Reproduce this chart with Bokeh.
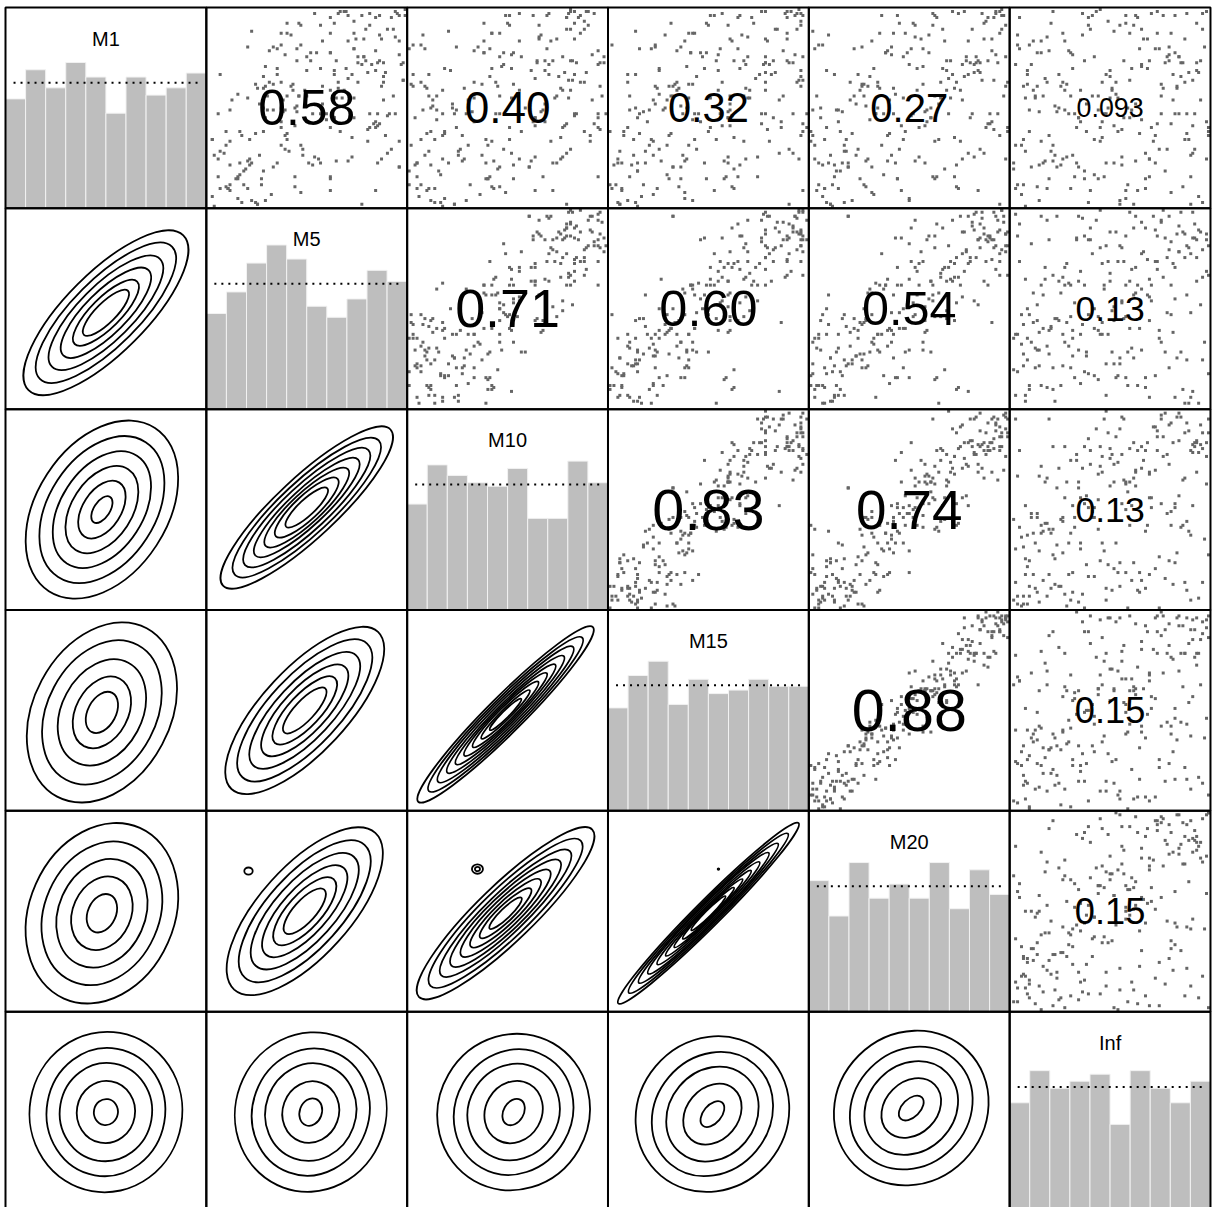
import numpy as np
from bokeh.plotting import figure
from bokeh.models import ColumnDataSource
from bokeh.embed import file_html
from bokeh.resources import INLINE
from bokeh.core.properties import value

VARS = ["M1", "M5", "M10", "M15", "M20", "Inf"]

# ---- observations (0-100 scale), estimated from the scatter panels ----
M20 = [3, 47, 82, 15, 66, 91, 28, 55, 8, 73,
       39, 97, 21, 60, 12, 85, 44, 70, 33, 5,
       77, 52, 18, 94, 63, 26, 88, 41, 10, 58,
       35, 99, 68, 2, 50, 80, 23, 93, 14, 45,
       72, 30, 86, 6, 61, 38, 96, 19, 54, 75,
       11, 42, 89, 67, 25, 1, 57, 83, 36, 98,
       48, 16, 74, 31, 92, 62, 7, 79, 43, 22,
       87, 53, 4, 69, 95, 27, 40, 13, 84, 59,
       20, 76, 34, 100, 9, 65, 49, 90, 29, 71,
       56, 17, 81, 37, 2, 94, 46, 64, 24, 78,
       99, 32, 51, 12, 86, 69, 5, 41, 93, 27,
       62, 8, 75, 44, 97, 19, 83, 36, 57, 1,
       70, 26, 90, 15, 53, 80, 39, 96, 10, 66,
       34, 88, 21, 58, 4, 73, 47, 100, 28, 61,
       14, 85, 42, 77, 0, 63, 31, 92, 50, 7,
       58, 6, 91, 23, 74, 45, 98, 17, 67, 32,
       84, 29, 50, 3, 63, 96, 11, 77, 40, 20,
       9, 71, 37, 88, 55, 14, 79, 26, 100, 48,
       65, 43, 18, 81, 2, 92, 34, 59, 72, 7,
       27, 95, 62, 50, 85, 38, 0, 68, 13, 89,
       76, 22, 46, 97, 31, 60, 87, 4, 53, 16,
       41, 64, 8, 35, 99, 19, 73, 52, 90, 25,
       93, 12, 80, 57, 44, 1, 66, 30, 83, 69,
       24, 86, 54, 10, 78, 47, 94, 39, 6, 61,
       51, 33, 99, 74, 17, 82, 28, 63, 42, 96]
M15 = [6, 40, 93, 14, 71, 77, 36, 51, 25, 63,
       34, 98, 9, 67, 10, 98, 36, 74, 15, 14,
       86, 49, 18, 79, 68, 32, 79, 55, 5, 60,
       24, 96, 62, 4, 69, 76, 23, 80, 24, 44,
       77, 42, 84, 2, 39, 41, 97, 14, 55, 89,
       14, 35, 100, 66, 30, 13, 65, 79, 53, 88,
       43, 17, 62, 38, 90, 75, 1, 83, 25, 31,
       96, 50, 4, 54, 100, 33, 31, 27, 79, 61,
       9, 81, 28, 98, 28, 61, 49, 77, 39, 70,
       61, 29, 79, 29, 20, 97, 53, 59, 25, 92,
       98, 25, 62, 11, 91, 55, 13, 37, 90, 17,
       57, 9, 63, 51, 95, 32, 75, 40, 39, 10,
       79, 23, 90, 0, 58, 86, 30, 90, 5, 68,
       23, 93, 15, 60, 23, 69, 47, 87, 38, 60,
       19, 97, 40, 69, 22, 66, 38, 87, 51, 21,
       61, 1, 98, 22, 79, 31, 94, 13, 84, 22,
       79, 30, 38, 10, 61, 91, 3, 81, 22, 29,
       18, 68, 37, 73, 60, 20, 70, 40, 95, 50,
       54, 48, 12, 83, 21, 88, 34, 46, 82, 6,
       32, 93, 60, 42, 63, 41, 7, 63, 14, 97,
       79, 15, 57, 96, 36, 46, 95, 0, 70, 6,
       36, 65, 4, 42, 97, 32, 65, 56, 72, 34,
       98, 9, 80, 42, 49, 7, 57, 44, 78, 71,
       13, 91, 48, 12, 97, 43, 94, 26, 16, 60,
       56, 45, 97, 66, 5, 85, 35, 58, 43, 90]
M10 = [9, 33, 85, 0, 81, 84, 12, 51, 21, 77,
       33, 87, 11, 67, 4, 73, 39, 64, 23, 3,
       93, 50, 10, 90, 72, 2, 66, 52, 23, 67,
       9, 77, 56, 17, 48, 84, 22, 97, 13, 48,
       91, 14, 90, 11, 59, 38, 92, 4, 56, 81,
       17, 28, 78, 52, 40, 20, 41, 79, 49, 98,
       42, 32, 42, 38, 84, 96, 4, 73, 33, 14,
       83, 51, 4, 65, 96, 1, 18, 24, 97, 68,
       6, 92, 22, 89, 7, 69, 48, 94, 28, 74,
       75, 1, 85, 16, 40, 94, 64, 41, 26, 84,
       99, 18, 84, 3, 99, 62, 11, 37, 86, 31,
       56, 24, 43, 51, 89, 61, 78, 30, 47, 7,
       100, 24, 82, 11, 62, 52, 17, 87, 23, 75,
       8, 80, 9, 73, 2, 77, 46, 96, 27, 64,
       33, 69, 46, 56, 42, 63, 49, 69, 52, 13,
       64, 6, 80, 8, 89, 38, 70, 13, 80, 36,
       78, 45, 18, 10, 55, 80, 6, 71, 30, 12,
       39, 69, 29, 84, 64, 14, 57, 37, 87, 57,
       39, 75, 6, 96, 0, 96, 33, 63, 71, 10,
       46, 65, 66, 29, 83, 38, 18, 45, 15, 89,
       82, 8, 79, 82, 46, 53, 71, 0, 66, 20,
       35, 80, 16, 42, 91, 61, 68, 46, 80, 17,
       81, 10, 72, 53, 53, 27, 44, 41, 96, 78,
       2, 82, 42, 25, 76, 51, 93, 43, 5, 64,
       70, 17, 97, 53, 25, 82, 46, 40, 44, 82]
M5 = [11, 20, 92, 18, 68, 86, 45, 62, 50, 73,
      31, 100, 22, 87, 5, 85, 15, 71, 5, 29,
      89, 46, 41, 70, 81, 42, 88, 39, 25, 38,
      28, 88, 71, 5, 83, 73, 26, 81, 6, 48,
      95, 60, 81, 11, 28, 62, 90, 22, 69, 66,
      3, 25, 85, 70, 27, 22, 74, 90, 78, 94,
      40, 45, 9, 58, 75, 62, 20, 80, 15, 40,
      99, 47, 35, 45, 95, 43, 40, 11, 99, 39,
      31, 97, 37, 67, 42, 58, 52, 84, 21, 74,
      79, 47, 76, 16, 9, 82, 62, 15, 39, 69,
      79, 35, 91, 21, 86, 64, 44, 48, 85, 27,
      54, 37, 10, 71, 80, 97, 54, 37, 29, 33,
      82, 20, 87, 9, 71, 8, 39, 74, 25, 46,
      29, 91, 24, 51, 37, 66, 50, 82, 20, 64,
      37, 85, 37, 56, 11, 87, 47, 43, 65, 2,
      44, 47, 87, 26, 76, 40, 97, 24, 91, 32,
      76, 58, 15, 30, 46, 78, 18, 78, 12, 38,
      57, 65, 60, 64, 73, 30, 79, 24, 89, 28,
      2, 86, 21, 74, 35, 85, 37, 85, 64, 10,
      50, 89, 57, 29, 52, 62, 16, 19, 28, 74,
      62, 45, 86, 100, 33, 55, 96, 11, 95, 16,
      33, 93, 17, 62, 82, 97, 44, 53, 62, 43,
      99, 6, 97, 33, 62, 17, 66, 28, 98, 49,
      35, 93, 57, 3, 89, 40, 97, 65, 2, 64,
      74, 63, 88, 53, 6, 94, 44, 14, 57, 67]
M1 = [8, 55, 47, 18, 55, 47, 51, 40, 69, 35,
      79, 97, 3, 87, 15, 8, 14, 65, 47, 45,
      54, 93, 28, 99, 33, 61, 85, 77, 1, 48,
      60, 24, 84, 24, 72, 67, 52, 39, 9, 29,
      99, 44, 68, 21, 50, 78, 36, 22, 59, 98,
      0, 60, 40, 70, 14, 89, 80, 68, 97, 56,
      88, 48, 10, 84, 85, 15, 9, 74, 57, 56,
      64, 92, 22, 74, 47, 62, 37, 49, 73, 49,
      63, 33, 50, 38, 87, 52, 78, 42, 24, 55,
      85, 31, 73, 16, 31, 98, 8, 15, 29, 99,
      76, 70, 46, 21, 73, 69, 50, 26, 96, 11,
      98, 40, 9, 97, 90, 20, 25, 31, 71, 49,
      47, 81, 74, 38, 23, 27, 36, 88, 1, 56,
      61, 27, 37, 22, 82, 60, 76, 40, 23, 45,
      43, 69, 88, 24, 33, 97, 7, 43, 55, 34,
      41, 82, 42, 26, 63, 93, 97, 2, 90, 6,
      76, 61, 4, 56, 56, 1, 11, 72, 54, 54,
      22, 74, 47, 93, 25, 49, 76, 62, 63, 38,
      34, 22, 34, 45, 80, 79, 63, 43, 67, 9,
      56, 73, 92, 3, 74, 78, 38, 19, 18, 94,
      59, 80, 41, 100, 20, 78, 98, 11, 86, 22,
      81, 96, 2, 88, 92, 20, 15, 47, 96, 59,
      64, 67, 84, 62, 14, 36, 63, 66, 72, 59,
      67, 29, 70, 26, 66, 34, 77, 23, 5, 45,
      80, 47, 61, 21, 28, 90, 10, 14, 47, 99]
INF = [64, 12, 85, 37, 50, 93, 22, 71, 8, 46,
       29, 77, 55, 3, 91, 40, 68, 17, 83, 34,
       96, 58, 20, 74, 45, 6, 88, 31, 62, 14,
       51, 99, 27, 70, 10, 82, 38, 56, 2, 79,
       43, 66, 90, 25, 59, 15, 73, 48, 35, 97,
       7, 84, 33, 61, 19, 52, 4, 95, 41, 76,
       60, 23, 87, 11, 69, 47, 30, 80, 53, 16,
       92, 39, 1, 57, 76, 28, 65, 9, 86, 44,
       18, 72, 49, 100, 36, 63, 13, 81, 26, 54,
       67, 5, 94, 42, 21, 89, 58, 32, 75, 99,
       85, 31, 62, 14, 78, 50, 24, 91, 39, 6,
       71, 45, 18, 83, 97, 34, 56, 2, 66, 27,
       48, 80, 37, 9, 63, 92, 19, 74, 55, 30,
       13, 68, 89, 52, 3, 77, 42, 100, 21, 60,
       35, 94, 26, 70, 15, 58, 81, 46, 7, 88,
       52, 9, 74, 31, 88, 20, 63, 97, 40, 5,
       79, 25, 58, 12, 44, 91, 3, 66, 35, 82,
       16, 70, 47, 94, 28, 61, 85, 8, 53, 38,
       90, 33, 6, 57, 75, 19, 46, 99, 24, 68,
       41, 87, 62, 14, 96, 30, 54, 1, 78, 49,
       27, 65, 92, 45, 10, 83, 36, 59, 18, 73,
       98, 4, 39, 81, 55, 23, 70, 32, 64, 11,
       60, 48, 15, 76, 37, 100, 26, 86, 2, 51,
       8, 93, 69, 22, 50, 42, 80, 17, 95, 34,
       73, 29, 84, 56, 7, 66, 13, 44, 89, 21]
DATA = [M1, M5, M10, M15, M20, INF]

# ---- diagonal histograms (10 bins, counts) and expected level ----
HIST_M1 = [43.6, 55.2, 48.0, 58.1, 52.3, 37.9, 52.3, 45.1, 48.0, 53.9]
HIST_M5 = [38.1, 46.7, 58.2, 65.4, 59.8, 41.0, 36.6, 43.9, 55.3, 50.9]
HIST_M10 = [42.2, 57.8, 53.6, 50.7, 49.3, 56.4, 36.5, 36.5, 59.3, 50.7]
HIST_M15 = [41.0, 53.9, 59.6, 42.4, 52.4, 46.7, 48.1, 52.4, 49.6, 49.6]
HIST_M20 = [52.2, 38.1, 59.4, 45.2, 50.8, 45.2, 59.4, 41.0, 56.5, 46.7]
HIST_INF = [43.7, 56.5, 49.5, 52.3, 55.1, 35.1, 56.5, 49.5, 43.7, 52.3]
HISTS = [HIST_M1, HIST_M5, HIST_M10, HIST_M15, HIST_M20, HIST_INF]
HIST_EXPECTED = 50
HIST_TOP = 80  # count that reaches the top of a panel

# ---- correlations (upper panels) ----
COR_ROW = [0, 0, 0, 0, 0, 1, 1, 1, 1, 2, 2, 2, 3, 3, 4]
COR_COL = [1, 2, 3, 4, 5, 2, 3, 4, 5, 3, 4, 5, 4, 5, 5]
COR_TXT = ["0.58", "0.40", "0.32", "0.27", "0.093", "0.71", "0.60", "0.54",
           "0.13", "0.83", "0.74", "0.13", "0.88", "0.15", "0.15"]

# ---- density contours (lower panels), approximated as nested ellipses ----
CON_ROW = [1, 2, 2, 3, 3, 3, 4, 4, 4, 4, 5, 5, 5, 5, 5]
CON_COL = [0, 0, 1, 0, 1, 2, 0, 1, 2, 3, 0, 1, 2, 3, 4]
CON_CX = [0.50, 0.48, 0.50, 0.48, 0.49, 0.49, 0.48, 0.49, 0.49, 0.50, 0.50, 0.52, 0.53, 0.52, 0.51]
CON_CY = [0.48, 0.50, 0.51, 0.49, 0.50, 0.48, 0.49, 0.50, 0.49, 0.49, 0.50, 0.50, 0.50, 0.49, 0.52]
CON_ANG = [45, 57, 43, 62, 47, 45, 66, 48, 44, 45, 80, 70, 60, 50, 45]
CON_MAJ = [
    [1.09, 0.93, 0.76, 0.60, 0.44, 0.31],
    [0.97, 0.80, 0.64, 0.48, 0.32, 0.15],
    [1.14, 0.98, 0.84, 0.70, 0.56, 0.42, 0.28],
    [0.95, 0.76, 0.56, 0.38, 0.22],
    [1.07, 0.91, 0.75, 0.59, 0.44, 0.30],
    [1.23, 1.08, 0.95, 0.82, 0.70, 0.58, 0.46, 0.34, 0.22],
    [0.93, 0.74, 0.56, 0.38, 0.20],
    [1.05, 0.89, 0.73, 0.58, 0.43, 0.29],
    [1.20, 1.04, 0.89, 0.75, 0.61, 0.48, 0.35, 0.22],
    [1.27, 1.12, 0.98, 0.85, 0.72, 0.60, 0.48, 0.36, 0.24],
    [0.80, 0.64, 0.49, 0.31, 0.13],
    [0.80, 0.64, 0.49, 0.31, 0.14],
    [0.79, 0.64, 0.49, 0.32, 0.14],
    [0.80, 0.65, 0.50, 0.33, 0.15],
    [0.80, 0.65, 0.50, 0.33, 0.15],
]
CON_MIN = [
    [0.40, 0.33, 0.27, 0.21, 0.15, 0.10],
    [0.65, 0.53, 0.41, 0.30, 0.19, 0.08],
    [0.30, 0.26, 0.22, 0.18, 0.15, 0.12, 0.08],
    [0.68, 0.54, 0.40, 0.26, 0.14],
    [0.42, 0.35, 0.28, 0.22, 0.16, 0.10],
    [0.18, 0.16, 0.14, 0.12, 0.10, 0.085, 0.07, 0.05, 0.035],
    [0.72, 0.57, 0.43, 0.29, 0.14],
    [0.45, 0.37, 0.30, 0.23, 0.17, 0.11],
    [0.28, 0.24, 0.20, 0.17, 0.14, 0.11, 0.08, 0.05],
    [0.13, 0.115, 0.10, 0.09, 0.075, 0.06, 0.05, 0.04, 0.03],
    [0.76, 0.59, 0.46, 0.29, 0.12],
    [0.75, 0.58, 0.45, 0.28, 0.11],
    [0.75, 0.58, 0.45, 0.28, 0.10],
    [0.74, 0.57, 0.43, 0.26, 0.09],
    [0.74, 0.57, 0.43, 0.26, 0.09],
]
# small isolated contour islands: row, col, x, y, diameter
ISL_ROW = [4, 4, 4, 4]
ISL_COL = [1, 2, 2, 3]
ISL_X = [0.21, 0.35, 0.35, 0.55]
ISL_Y = [0.70, 0.71, 0.71, 0.71]
ISL_D = [0.042, 0.055, 0.025, 0.008]

# ---------------- layout ----------------
W, H = 1217, 1207
S = 200.83          # pixels per panel
LEFT, TOP = 5, 7    # pixel position of the grid's top-left corner
NV = len(VARS)

p = figure(width=W, height=H, output_backend="svg", toolbar_location=None,
           x_range=(-LEFT / S, (W - LEFT) / S),
           y_range=(NV - (H - TOP) / S, NV + TOP / S),
           x_axis_location=None, y_axis_location=None,
           min_border=0, min_border_left=0, min_border_right=0,
           min_border_top=0, min_border_bottom=0)
p.grid.visible = False
p.outline_line_color = None
p.background_fill_color = "white"
p.border_fill_color = "white"


def px(col, u):
    return col + u


def py(row, v):
    return (NV - 1 - row) + v


PAD, SPAN = 0.01, 0.98

# histograms on the diagonal
ql, qr, qb, qt = [], [], [], []
dx0, dx1, dy = [], [], []
lx, ly, lt = [], [], []
for k, counts in enumerate(HISTS):
    for b, c in enumerate(counts):
        ql.append(px(k, b / 10))
        qr.append(px(k, (b + 1) / 10))
        qb.append(py(k, 0))
        qt.append(py(k, c / HIST_TOP))
    dx0.append(px(k, 0.04))
    dx1.append(px(k, 0.97))
    dy.append(py(k, HIST_EXPECTED / HIST_TOP))
    lx.append(px(k, 0.5))
    ly.append(py(k, 0.845))
    lt.append(VARS[k])
p.quad(left=ql, right=qr, bottom=qb, top=qt, fill_color="#BEBEBE",
       line_color="#F2F2F2", line_width=1)
p.segment(x0=dx0, y0=dy, x1=dx1, y1=dy, line_color="black", line_width=2,
          line_dash="2 5")
p.text(x=lx, y=ly, text=lt, text_align="center", text_baseline="middle",
       text_font=value("Liberation Sans"), text_font_size="20px", text_color="black")

# scatter points in the upper panels
sx, sy = [], []
for i, j in zip(COR_ROW, COR_COL):
    for a, b in zip(DATA[j], DATA[i]):
        sx.append(px(j, PAD + SPAN * a / 100))
        sy.append(py(i, PAD + SPAN * b / 100))
p.scatter(sx, sy, marker="square", size=3, fill_color="#666666",
          line_color=None)

# correlation labels
tx, ty, tt, ts = [], [], [], []
for i, j, t in zip(COR_ROW, COR_COL, COR_TXT):
    r = float(t)
    w_em = 0.556 * (len(t) - 1) + 0.278
    size = 61.3 * (1 + r) / w_em
    tx.append(px(j, 0.5))
    ty.append(py(i, 0.5))
    tt.append(t)
    ts.append("%.1fpx" % size)
tsrc = ColumnDataSource(dict(x=tx, y=ty, text=tt, size=ts))
p.text(x="x", y="y", text="text", text_font_size="size", source=tsrc,
       text_align="center", text_baseline="middle",
       text_font=value("Liberation Sans"), text_color="black")

# contours in the lower panels
ex, ey, ew, eh, ea = [], [], [], [], []
for n in range(len(CON_ROW)):
    for a, b in zip(CON_MAJ[n], CON_MIN[n]):
        ex.append(px(CON_COL[n], CON_CX[n]))
        ey.append(py(CON_ROW[n], CON_CY[n]))
        ew.append(a)
        eh.append(b)
        ea.append(CON_ANG[n])
for r_, c_, x_, y_, d_ in zip(ISL_ROW, ISL_COL, ISL_X, ISL_Y, ISL_D):
    ex.append(px(c_, x_))
    ey.append(py(r_, y_))
    ew.append(d_)
    eh.append(d_ * 0.85)
    ea.append(0)
p.ellipse(x=ex, y=ey, width=ew, height=eh, angle=ea, angle_units="deg",
          fill_color=None, line_color="black", line_width=1.8)

# panel frames
bx, by = [], []
for i in range(NV):
    for j in range(NV):
        bx.append(px(j, 0.5))
        by.append(py(i, 0.5))
p.rect(x=bx, y=by, width=1, height=1, fill_color=None, line_color="black",
       line_width=2)

open("out.html", "w").write(file_html(p, INLINE))
